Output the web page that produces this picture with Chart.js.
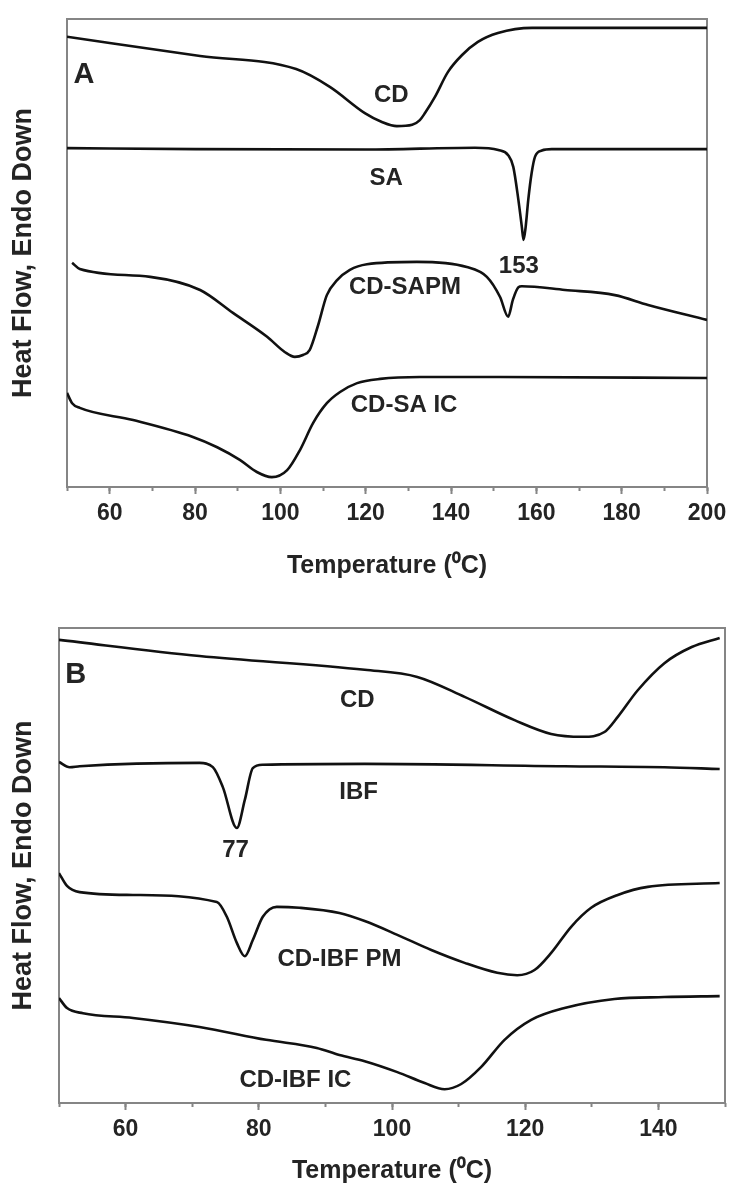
<!DOCTYPE html>
<html>
<head>
<meta charset="utf-8">
<script src="https://cdn.jsdelivr.net/npm/chart.js@4.4.1/dist/chart.umd.min.js"></script>
<style>
  html, body { margin: 0; padding: 0; background: #fff; }
  #wrap { position: relative; width: 730px; height: 1189px; }
  canvas { position: absolute; left: 0; }
  #chartA { top: 0; }
  #chartB { top: 585px; }
</style>
</head>
<body>
<div id="wrap">
  <canvas id="chartA" width="730" height="585"></canvas>
  <canvas id="chartB" width="730" height="604"></canvas>
</div>
<script>
// DSC thermograms, heat flow in arbitrary units (endo down), curves stacked

// --- Panel A: CD, SA, CD-SAPM, CD-SA IC (50-200 C) ---
const cdA_T = [50, 81.2, 103.7, 111.6, 119.8, 123.8, 127.3, 130.9, 132.7, 133.9, 136.2, 139.3, 142.6, 146.3, 151.0, 159.0, 174.4, 200];
const cdA_HF = [96.2, 92.1, 89.3, 85.5, 79.9, 78.0, 77.1, 77.4, 78.4, 79.9, 83.3, 88.7, 92.3, 95.1, 97.0, 98.1, 98.1, 98.1];

const saA_T = [50, 80, 120, 145.6, 151.1, 153.4, 154.6, 155.8, 156.6, 157.0, 157.5, 158.1, 158.9, 159.7, 161.3, 163.6, 200];
const saA_HF = [72.4, 72.2, 72.1, 72.5, 72.0, 70.9, 68.4, 61.3, 55.6, 52.8, 55.6, 61.3, 67.1, 70.6, 71.9, 72.2, 72.2];

const sapmA_T = [51.2, 53.0, 69.5, 81.2, 88.9, 96.9, 101.1, 103.4, 105.3, 106.9, 108.8, 110.9, 113.3, 116.3, 120.3, 132.0, 143.7, 148.4, 151.5, 153.4, 154.5, 155.8, 156.6, 166.7, 178.4, 186.2, 200];
const sapmA_HF = [47.9, 46.6, 44.9, 42.1, 37.2, 32.1, 28.8, 27.8, 28.2, 29.3, 34.4, 41.0, 44.2, 46.4, 47.6, 48.1, 47.0, 44.9, 40.6, 36.4, 40.0, 42.7, 42.9, 42.1, 41.0, 38.9, 35.7];

const icA_T = [50, 51.2, 53.0, 65.5, 79.5, 85.2, 90.5, 94.5, 98.0, 101.6, 104.6, 107.7, 110.9, 114.0, 118.0, 123.4, 132.7, 151.5, 200];
const icA_HF = [20.1, 17.9, 16.9, 14.3, 10.7, 8.5, 5.8, 3.2, 2.1, 3.6, 7.9, 13.7, 17.9, 20.3, 22.2, 23.1, 23.5, 23.5, 23.3];

// curve names / peak values: [text, temperature, heat flow]
const labelsA = [['CD', 126.0, 83.7], ['SA', 124.8, 66.0], ['153', 155.9, 47.2], ['CD-SAPM', 129.2, 42.7], ['CD-SA IC', 129.0, 17.5]];
const letterA = ['A', 54.0, 88.0];

// --- Panel B: CD, IBF, CD-IBF PM, CD-IBF IC (50-150 C) ---
const cdB_T = [50, 71.1, 95.9, 103.8, 110.9, 118.4, 123.9, 128.6, 131.9, 133.9, 136.9, 140.9, 145.0, 149.2];
const cdB_HF = [97.5, 94.1, 91.2, 89.7, 85.5, 80.6, 77.7, 77.1, 78.1, 81.3, 86.9, 92.6, 96.0, 97.9];

const ibfB_T = [50, 51.6, 53.1, 71.1, 73.1, 74.6, 76.7, 77.9, 79.1, 80.6, 95.9, 125.9, 140.9, 149.2];
const ibfB_HF = [71.8, 70.7, 70.9, 71.6, 70.7, 66.5, 57.9, 63.8, 70.5, 71.2, 71.4, 70.9, 70.7, 70.3];

const pmB_T = [50, 51.2, 53.1, 61.1, 73.7, 75.2, 76.7, 77.9, 79.1, 80.6, 82.7, 86.1, 92.1, 95.9, 100.8, 105.9, 110.9, 115.8, 118.8, 121.4, 123.9, 126.9, 129.9, 133.9, 138.4, 149.2];
const pmB_HF = [48.4, 45.7, 44.4, 43.8, 42.3, 39.2, 33.7, 30.9, 34.3, 39.2, 41.3, 41.1, 40.0, 38.3, 35.4, 32.2, 29.5, 27.4, 26.9, 28.0, 31.6, 37.1, 41.1, 43.8, 45.5, 46.3];

const icB_T = [50, 51.2, 53.6, 61.1, 71.1, 81.1, 88.7, 92.1, 95.9, 100.8, 104.9, 107.9, 110.4, 113.4, 116.9, 120.9, 125.9, 133.4, 140.9, 149.2];
const icB_HF = [22.1, 20.0, 18.9, 17.9, 16.0, 13.3, 11.6, 10.1, 8.8, 6.5, 4.2, 2.9, 4.0, 7.6, 13.3, 17.5, 20.0, 21.9, 22.3, 22.5];

const labelsB = [['CD', 94.8, 84.8], ['IBF', 95.0, 65.3], ['77', 76.5, 53.1], ['CD-IBF PM', 92.1, 30.3], ['CD-IBF IC', 85.5, 4.8]];
const letterB = ['B', 52.5, 90.1];

const FONT = "'Liberation Sans', Arial, Helvetica, sans-serif";
const INK = '#242424';
const FRAME = '#858585';

// box round the plot area
const frame = {
  id: 'frame',
  beforeDatasetsDraw(chart) {
    const { ctx, chartArea: a } = chart;
    ctx.save();
    ctx.strokeStyle = FRAME;
    ctx.lineWidth = 2;
    ctx.strokeRect(a.left, a.top, a.right - a.left, a.bottom - a.top);
    ctx.restore();
  }
};

// text placed in data coordinates
const curveLabels = {
  id: 'curveLabels',
  afterDatasetsDraw(chart, args, opts) {
    const { ctx, scales: { x, y } } = chart;
    ctx.save();
    ctx.fillStyle = INK;
    ctx.textAlign = 'center';
    ctx.textBaseline = 'middle';
    ctx.font = `bold 24px ${FONT}`;
    opts.items.forEach(([text, t, hf]) => {
      ctx.fillText(text, x.getPixelForValue(t), y.getPixelForValue(hf));
    });
    const [letter, lt, lh] = opts.letter;
    ctx.font = `bold 29px ${FONT}`;
    ctx.fillText(letter, x.getPixelForValue(lt), y.getPixelForValue(lh));
    ctx.restore();
  }
};

function makeChart(id, series, xMax, cfg, labels, letter) {
  return new Chart(document.getElementById(id), {
    type: 'line',
    data: {
      datasets: series.map(([temps, hf]) => ({
        data: temps.map((t, i) => ({ x: t, y: hf[i] })),
        borderColor: '#111',
        borderWidth: 2.6,
        pointRadius: 0,
        fill: false,
        cubicInterpolationMode: 'monotone'
      }))
    },
    options: {
      responsive: false,
      animation: false,
      events: [],
      layout: { padding: cfg.padding },
      plugins: {
        legend: { display: false },
        tooltip: { enabled: false },
        curveLabels: { items: labels, letter: letter }
      },
      scales: {
        x: {
          type: 'linear', position: 'bottom', min: 50, max: xMax, weight: 1,
          // labelled ticks every 20 degrees starting at 60
          afterBuildTicks: s => { s.ticks = s.ticks.filter(t => (t.value - 60) % 20 === 0); },
          afterFit: s => { s.height = cfg.axisH; s.paddingLeft = 0; s.paddingRight = 0; },
          grid: { drawOnChartArea: false, drawTicks: true, tickLength: 7, tickWidth: 2, tickColor: FRAME },
          border: { display: true, color: FRAME, width: 2 },
          ticks: {
            stepSize: 10, autoSkip: false, maxRotation: 0, padding: 6,
            color: INK, font: { family: FONT, size: 23, weight: 'bold' },
            callback: v => v
          },
          title: {
            display: true, text: 'Temperature (⁰C)', color: INK,
            font: { family: FONT, size: 25, weight: 'bold' },
            padding: { top: 0, bottom: cfg.titlePad }
          }
        },
        xMinor: {
          type: 'linear', position: 'bottom', min: 50, max: xMax, weight: 0,
          afterFit: s => { s.height = 0; s.paddingLeft = 0; s.paddingRight = 0; },
          grid: { drawOnChartArea: false, drawTicks: true, tickLength: 4, tickWidth: 2, tickColor: FRAME },
          border: { display: false },
          ticks: { stepSize: 10, display: false }
        },
        y: {
          min: 0, max: 100,
          afterFit: s => { s.width = cfg.yW; s.paddingTop = 0; s.paddingBottom = 0; },
          grid: { display: false },
          border: { display: true, color: FRAME, width: 2 },
          ticks: { display: false },
          title: {
            display: true, text: 'Heat Flow, Endo Down', color: INK,
            font: { family: FONT, size: 27, weight: 'bold' },
            padding: { top: 7, bottom: 0 }
          }
        }
      }
    },
    plugins: [frame, curveLabels]
  });
}

makeChart('chartA',
  [[cdA_T, cdA_HF], [saA_T, saA_HF], [sapmA_T, sapmA_HF], [icA_T, icA_HF]],
  200,
  { padding: { top: 19, right: 23, left: 0, bottom: 0 }, axisH: 98, yW: 67, titlePad: 4 },
  labelsA, letterA);

makeChart('chartB',
  [[cdB_T, cdB_HF], [ibfB_T, ibfB_HF], [pmB_T, pmB_HF], [icB_T, icB_HF]],
  150,
  { padding: { top: 43, right: 5, left: 0, bottom: 0 }, axisH: 86, yW: 59, titlePad: 3 },
  labelsB, letterB);
</script>
</body>
</html>
